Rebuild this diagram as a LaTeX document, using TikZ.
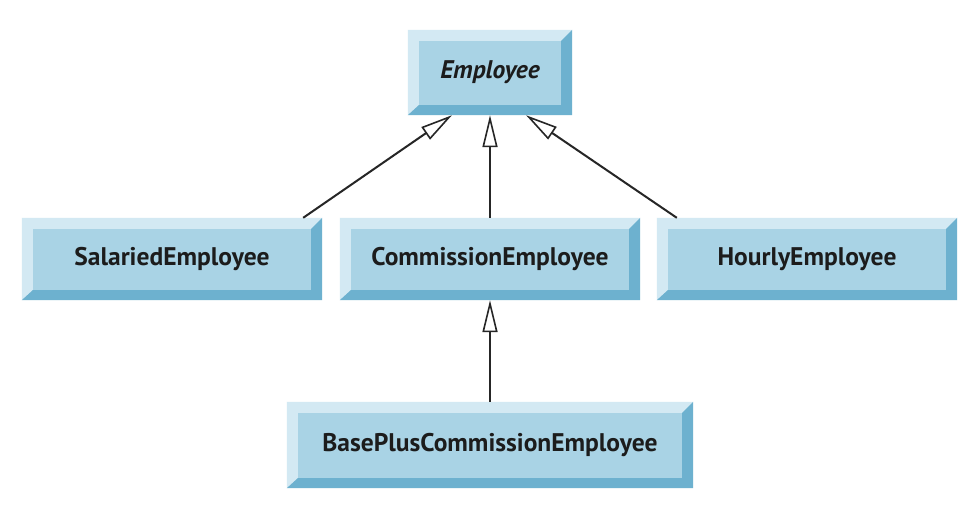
\documentclass[tikz,border=0pt]{standalone}
\usepackage{fontspec}
\setmainfont{PT Sans}
\usetikzlibrary{arrows.meta}
\definecolor{bvmid}{HTML}{A9D3E5}
\definecolor{bvlight}{HTML}{D3E9F3}
\definecolor{bvdark}{HTML}{6DB1CF}
\definecolor{txt}{HTML}{1C1C1C}
\tikzset{
  bbox/.style={rectangle, fill=bvmid, inner sep=0pt, text=txt,
    font=\fontsize{25.5}{28}\selectfont\bfseries},
  inherit/.style={line width=2pt, draw=black!85,
    -{Triangle[fill=white, length=32pt, width=15pt, line width=1.6pt]}}
}
\begin{document}
\begin{tikzpicture}[x=1pt,y=-1pt]
\useasboundingbox (0,0) rectangle (974,514);
\fill[white] (0,0) rectangle (974,514);
\node[bbox, minimum width=164pt, minimum height=85pt] (emp) at (490,72.5) {\itshape Employee};
\node[bbox, minimum width=300pt, minimum height=82pt] (sal) at (172,259) {SalariedEmployee};
\node[bbox, minimum width=300pt, minimum height=82pt] (com) at (490,259) {CommissionEmployee};
\node[bbox, minimum width=300pt, minimum height=82pt] (hou) at (807,259) {HourlyEmployee};
\node[bbox, minimum width=406pt, minimum height=86pt] (bpc) at (490,445) {BasePlusCommissionEmployee};
\foreach \n in {emp,sal,com,hou,bpc}{
  \fill[bvlight] (\n.north west) -- (\n.north east) -- ([xshift=-11pt,yshift=-11pt]\n.north east)
     -- ([xshift=11pt,yshift=-11pt]\n.north west) -- ([xshift=11pt,yshift=10pt]\n.south west) -- (\n.south west) -- cycle;
  \fill[bvdark] (\n.south west) -- ([xshift=11pt,yshift=10pt]\n.south west) -- ([xshift=-11pt,yshift=10pt]\n.south east)
     -- ([xshift=-11pt,yshift=-11pt]\n.north east) -- (\n.north east) -- (\n.south east) -- cycle;
}
\draw[inherit] ([xshift=-19pt]sal.north east) -- ([xshift=-38pt]emp.south);
\draw[inherit] (com.north) -- (com.north |- emp.south);
\draw[inherit] ([xshift=20pt]hou.north west) -- ([xshift=36pt]emp.south);
\draw[inherit] (bpc.north) -- (bpc.north |- com.south);
\end{tikzpicture}
\end{document}
